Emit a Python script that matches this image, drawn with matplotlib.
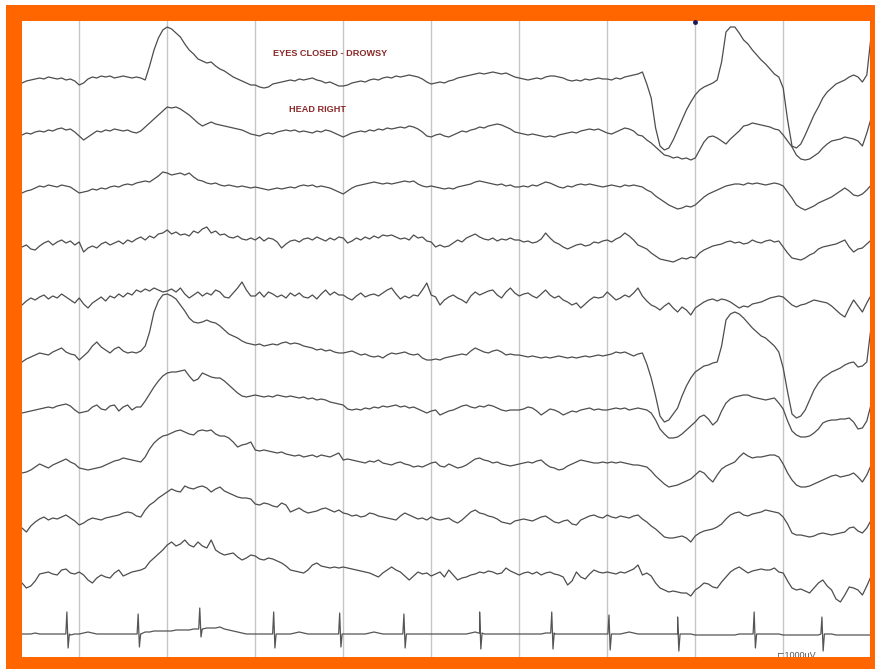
import numpy as np
import matplotlib
matplotlib.use("Agg")
import matplotlib.pyplot as plt

# EEG page, 10 channels + ECG, samples every 0.05 s (values in display units, + = up)
dt = 0.05
n_samp = 194

ch1 = [-3, -1, 0, 1, 2, 1, 3, 2, 1, 2, 0, 1, -1,
       -5, -3, 1, 3, 2, 4, 3, 4, 2, 3, 4, 3, 2, 3, 2, 0, 14, 30, 42, 50,
       53, 51, 47, 43, 36, 30, 26, 21, 19, 17, 18, 14, 11, 9, 6, 3, 1, -1, -3, -5,
       -5, -7, -8, -7, -4, -3, -2, -1, 0, -1, 1, 0, 1, 2, 0, -1, -3, -2, -4, -6,
       -6, -5, -3, -2, -1, -2, 0, 1, 0, 2, 3, 2, 4, 3, 4, 5, 4, 3, 1, -2,
       -4, -3, -2, -3, -1, 0, 2, 3, 4, 5, 6, 7, 6, 7, 8, 7, 6, 7, 5, 3,
       2, 1, 0, 1, 2, 1, 3, 4, 4, 3, 2, 0, -1, 0, -1, 1, 0, 1, 2, 1,
       1, 0, 2, 1, 3, 4, 5, 6, 8, -4, -18, -48, -66, -70, -68, -60, -50, -40, -30, -22,
       -15, -10, -7, -5, -3, 0, 18, 48, 53, 53, 47, 40, 36, 30, 25, 20, 16, 11, 6, 3,
       -8, -40, -66, -68, -64, -55, -45, -35, -27, -18, -12, -8, -4, -2, 0, 3, 5, 3, -2, 5, 45]

ch2 = [-2, 0, -1, 1, 2, 1, 3, 2, 4, 5, 3, 4, 1,
       -3, -7, -4, -1, 2, 1, 3, 2, 4, 3, 2, 3, 1, 0, 2, 6, 10, 14, 18, 22,
       26, 25, 26, 24, 21, 18, 14, 10, 7, 9, 11, 9, 8, 7, 6, 5, 4, 3, 1, -1,
       -2, -3, -1, 0, -1, 1, 2, 3, 2, 3, 1, 2, 1, 0, 2, 1, 3, 2, 0, -2,
       -4, -2, 0, 1, 2, 1, 3, 2, 4, 3, 5, 4, 5, 6, 5, 7, 6, 4, 1, -3,
       -4, -2, -1, -3, -4, -2, 0, 2, 1, 3, 4, 6, 5, 7, 8, 9, 8, 6, 4, 1,
       0, -1, -2, -1, -2, -3, -4, -3, -4, -2, -1, 0, 1, 0, 2, 3, 4, 3, 4, 2,
       0, -1, 1, 3, 5, 4, 2, -2, -3, -7, -10, -14, -18, -22, -23, -25, -24, -26, -25, -27,
       -25, -17, -9, -4, -3, -5, -8, -11, -6, -2, 2, 7, 8, 10, 9, 8, 7, 6, 4, 3,
       -2, -8, -14, -22, -26, -27, -26, -23, -20, -15, -11, -8, -7, -6, -4, -5, -6, -8, -13, 0, 15]

ch3 = [-5, -3, -2, 0, 2, 1, 3, 2, 1, 3, 2, 1, -2,
       -5, -4, -3, -1, -2, 0, -1, 1, 2, 1, 3, 4, 3, 5, 6, 7, 6, 9, 12, 16,
       15, 13, 14, 15, 13, 15, 11, 8, 7, 5, 4, 5, 3, 2, 3, 2, 1, 2, 1, 0,
       1, 0, -1, -2, -1, 0, -1, 0, 1, 0, 2, 3, 2, 3, 1, 2, 1, 0, -2, -4,
       -6, -3, 0, 2, 3, 4, 5, 6, 5, 4, 5, 4, 5, 6, 7, 6, 7, 4, 2, 1,
       2, 1, 0, -1, 0, -1, 1, 2, 3, 4, 6, 7, 6, 5, 4, 3, 4, 2, 3, 1,
       1, 2, 1, 3, 2, 4, 6, 5, 3, 1, 0, 2, 1, 3, 4, 3, 4, 3, 2, 1,
       2, 3, 2, 1, 3, 2, 3, 2, 1, -2, -4, -8, -11, -14, -17, -19, -21, -20, -18, -19,
       -17, -13, -9, -6, -4, -2, 0, 2, 3, 4, 4, 3, 5, 4, 5, 4, 3, 4, 5, 4,
       2, -4, -10, -17, -20, -22, -20, -18, -15, -13, -11, -9, -6, -3, 0, -3, -7, -8, -6, -2, 3]

ch4 = [-3, -1, -5, -6, -2, 1, 3, -1, 2, 4, 1, 3, -1,
       2, -8, -4, -2, -4, 0, 2, -1, 1, 3, 0, 4, 2, 5, 7, 4, 8, 6, 10, 11,
       14, 10, 12, 9, 10, 8, 13, 11, 15, 17, 11, 13, 9, 10, 7, 6, 8, 5, 4, 6,
       4, 7, 3, 6, 5, 2, -4, 0, 3, 4, 2, 5, 6, 4, 7, 5, 3, 6, 4, 7,
       6, 1, 3, 6, 4, 7, 5, 8, 6, 9, 8, 9, 7, 5, 6, 4, 9, 6, 7, 3,
       2, -3, -1, -3, -2, 1, 4, 2, 6, 8, 10, 7, 5, 4, 6, 3, 5, 4, 6, 4,
       4, 2, 3, 1, 2, 5, 11, 6, 2, 0, -3, -5, -3, -1, 0, -2, -1, 2, 1, 3,
       4, 2, 5, 7, 11, 8, 4, -1, -3, -5, -9, -12, -15, -16, -17, -18, -16, -14, -15, -13,
       -14, -9, -6, -4, -2, -1, 0, 2, 3, 1, 2, 0, 1, 4, 2, 1, 3, 4, 2, 3,
       -3, -9, -14, -15, -16, -14, -11, -9, -5, -3, -2, -1, 0, 2, 4, -3, -8, -5, -4, 0, 4]

ch5 = [-7, -3, 0, -2, 1, 3, -1, 2, 0, 4, 1, -2, -5,
       0, -6, -10, -5, -2, 1, -3, 2, 0, 4, 1, 5, 3, 8, 6, 9, 7, 10, 8, 6,
       7, 9, 6, 10, 4, 0, 3, 6, 2, 5, 3, 8, 6, 1, 0, 5, 10, 16, 8, 2,
       2, 6, 1, 6, 4, 1, 3, 0, 5, 2, 5, 1, 0, 3, -1, 4, 8, 3, 6, 3,
       3, 0, -2, 2, 5, 1, 3, 4, 2, 5, 8, 10, 4, -1, 2, 0, 3, 2, 8, 15,
       3, 1, -7, -2, 1, 3, 0, -2, -5, 2, 6, 3, 5, 7, 8, 3, 0, 6, 10, 5,
       2, 4, 5, 2, 0, 4, 8, 3, 0, 2, -2, -4, -7, -5, -10, -6, -2, 1, 0, 1,
       6, 2, -2, 0, 3, 1, 5, 10, 2, -3, -7, -9, -12, -8, -5, -10, -14, -9, -12, -17,
       -10, -7, -4, -2, -1, -3, -1, -2, -4, -7, -10, -8, -9, -6, -5, -4, -2, 0, 1, 2,
       1, -3, -7, -9, -7, -6, -4, -2, -3, -4, -5, -8, -12, -16, -19, -10, -2, -8, -14, -5, 3]

ch6 = [-6, -3, -1, 1, 3, 2, 1, 4, 6, 8, 4, 2, 1,
       -4, 0, 4, 10, 14, 9, 6, 3, 7, 9, 5, 3, 4, 3, 5, 10, 24, 44, 55, 61,
       62, 60, 57, 51, 45, 38, 34, 33, 34, 36, 34, 33, 30, 26, 22, 20, 18, 15, 13, 12,
       11, 12, 10, 11, 12, 11, 13, 14, 12, 13, 12, 10, 9, 8, 6, 7, 5, 6, 4, 3,
       3, 4, 5, 3, 1, 2, 0, -1, 0, -2, 1, 3, 2, 3, 4, 2, 1, 2, -2, -4,
       -4, -3, -4, -2, -1, 0, 1, 2, 1, 5, 8, 6, 4, 3, 5, 6, 4, 1, 2, 1,
       1, 0, -1, 0, -1, -2, -1, -2, -1, 0, -1, -2, -1, -2, -1, 0, -1, 0, 1, 0,
       1, 2, 4, 3, 4, 2, 0, 2, 3, -8, -22, -40, -60, -66, -64, -58, -52, -40, -30, -22,
       -16, -13, -10, -9, -7, -6, 10, 36, 42, 44, 42, 38, 33, 28, 24, 20, 18, 14, 10, 4,
       -12, -36, -58, -62, -60, -54, -44, -34, -27, -22, -19, -16, -14, -12, -9, -7, -6, -11, -10, -6, 30]

ch7 = [-4, -3, -2, -1, 0, 1, 2, 1, 3, 4, 5, 3, -1,
       -4, -3, -2, 2, 4, 0, -1, 3, 4, -2, 2, 4, -1, 2, 2, 8, 15, 22, 28, 33,
       36, 37, 37, 38, 39, 33, 28, 30, 36, 34, 32, 31, 31, 28, 24, 20, 16, 13, 12, 13,
       14, 13, 12, 13, 12, 14, 13, 12, 13, 12, 11, 12, 10, 11, 9, 10, 9, 7, 6, 5,
       4, 0, -1, 0, -1, 1, 0, 2, 1, 3, 2, 3, 4, 2, 3, 1, 2, 0, -2, -4,
       -2, -1, -6, -4, -2, -1, 1, 3, 4, 2, 1, 3, 2, 4, 3, 1, -1, -2, -1, -1,
       -1, 0, 2, 1, -2, -6, -3, 0, -1, -3, -6, -4, -2, -3, -1, 0, 1, -1, 0, -1,
       -1, 0, 1, 0, 1, -1, 0, 1, 0, -1, -4, -11, -20, -25, -29, -29, -28, -25, -21, -17,
       -13, -8, -6, -10, -16, -12, -2, 6, 10, 12, 13, 14, 14, 12, 11, 10, 9, 10, 11, 6,
       0, -12, -22, -26, -28, -28, -27, -24, -20, -14, -12, -11, -11, -10, -10, -9, -13, -20, -19, -12, 5]

ch8 = [-6, -5, -3, 0, 3, 1, -1, 2, 4, 6, 8, 5, 3,
       -1, -2, -3, -2, -1, 0, 2, 4, 6, 7, 9, 8, 7, 6, 5, 10, 18, 24, 28, 31,
       32, 34, 36, 37, 35, 33, 32, 36, 37, 36, 37, 33, 31, 31, 29, 25, 20, 22, 23, 25,
       17, 16, 17, 16, 15, 14, 15, 13, 12, 11, 12, 10, 11, 12, 10, 12, 11, 10, 12, 14,
       7, 8, 7, 6, 5, 4, 6, 5, 7, 4, 3, 2, 4, 5, 3, 2, 0, 1, 0, 2,
       4, 5, 1, 0, 3, 1, -1, 0, 2, 5, 8, 9, 7, 6, 4, 5, 3, 2, 1, 2,
       3, 4, 5, 4, 6, 7, 3, 0, -1, -3, -2, 1, 3, 5, 7, 6, 5, 4, 4, 5,
       4, 5, 4, 5, 4, 3, 2, 2, 1, 0, -4, -9, -13, -17, -20, -19, -18, -16, -14, -12,
       -8, -4, -6, -11, -15, -8, -2, 1, 3, 5, 10, 14, 11, 9, 10, 10, 11, 12, 12, 10,
       3, -6, -13, -18, -20, -20, -19, -17, -15, -13, -11, -9, -8, -10, -9, -8, -6, -10, -15, -8, 2]

ch9 = [-6, -10, -4, 0, 3, 5, 2, 4, 3, 5, 7, 4, 1,
       -3, -1, 2, 4, 3, 2, 4, 5, 6, 7, 9, 10, 9, 6, 5, 12, 17, 20, 24, 27,
       30, 33, 31, 30, 36, 34, 33, 35, 36, 34, 30, 33, 35, 31, 29, 27, 25, 24, 24, 23,
       18, 17, 19, 18, 16, 15, 19, 17, 10, 12, 14, 11, 9, 10, 11, 13, 14, 12, 10, 12,
       9, 8, 6, 7, 5, 6, 9, 8, 6, 5, 4, 3, 2, 6, 9, 7, 5, 3, 4, 2,
       5, 3, 2, 3, 4, 1, -1, 2, 6, 10, 12, 9, 8, 6, 5, 3, 0, -1, -2, 1,
       2, 3, 2, 1, 3, 5, 6, 3, 0, -1, 1, 2, -2, -3, 2, 4, 6, 7, 5, 4,
       7, 5, 4, 6, 5, 4, 6, 7, 3, 0, -4, -7, -11, -15, -16, -16, -15, -14, -16, -20,
       -14, -11, -9, -8, -7, -5, -2, 3, 7, 9, 10, 7, 6, 8, 9, 10, 12, 11, 10, 9,
       5, -2, -11, -13, -13, -14, -15, -14, -12, -11, -12, -13, -12, -11, -10, -6, -5, -9, -11, -6, 2]

ch10 = [-5, -10, -8, -3, 4, 5, 6, 4, 3, 8, 9, 5, 4,
        6, 3, -2, -5, 0, 3, 1, 0, 5, 8, 2, 4, 6, 7, 8, 10, 16, 20, 24, 28,
        33, 36, 32, 34, 38, 33, 31, 36, 32, 30, 38, 28, 25, 23, 24, 25, 21, 18, 20, 23,
        22, 19, 18, 20, 19, 17, 15, 12, 8, 7, 6, 5, 8, 13, 15, 12, 11, 10, 11, 10,
        11, 10, 9, 8, 7, 6, 5, 3, 1, 5, 8, 11, 8, 6, 2, -2, 2, 6, 4, 5,
        2, 4, 6, 1, 8, 3, -2, 0, 1, 3, 4, 6, 5, 7, 6, 4, 5, 10, 7, 5,
        3, 5, 6, 4, 6, 3, 5, 6, 4, 3, 1, -7, -3, 6, 1, -1, 4, 8, 6, 5,
        6, 5, 4, 6, 5, 7, 9, 13, 3, 5, 2, -5, -10, -12, -14, -13, -14, -15, -15, -18,
        -12, -9, -5, -6, -9, -10, -4, 1, 6, 9, 11, 8, 5, 7, 8, 9, 8, 8, 10, 6,
        5, -3, -10, -12, -11, -13, -15, -10, -5, -2, -8, -12, -21, -24, -17, -9, -10, -12, -17, -8, 2]

ecg_base = [0, 0, 0, 1, 0, 0, 0, 0, 0, 0, 0, -1, 0,
            0, 1, 2, 1, 0, 0, 0, 0, 0, 0, 0, 0, 0, 0, 0, 2, 2, 3, 3, 3,
            3, 3, 4, 4, 4, 4, 5, 5, 5, 6, 6, 6, 7, 5, 4, 3, 2, 1, 0, 0,
            0, 0, 0, 0, 0, 0, 0, 0, 0, 1, 2, 1, 0, 0, 0, 0, 0, 0, 0, 0,
            0, 0, 0, 0, 0, 0, 1, 2, 1, 0, 0, 0, 0, 0, 0, 0, 0, 0, 0, 0,
            0, 0, 0, 0, 0, 0, 0, 0, 0, 1, 2, 1, 0, 0, 0, 0, 0, 0, 0, 0,
            0, 0, 0, 0, 0, 0, 1, 1, 0, 0, 0, 0, 0, 0, 0, 0, 0, 0, 0, 0,
            0, 0, 0, 0, 1, 2, 1, 0, 0, 0, 0, 0, 0, 0, 0, 0, 0, 0, 0, 0,
            -1, -1, -1, -1, -1, -1, -1, -1, -1, -1, 0, 0, 0, 0, 0, 0, 0, 0, 0, 0,
            -1, -1, -1, -1, -1, -1, -1, -1, -1, 0, 0, 0, -1, -1, -1, -1, -1, -1, -1, -1, -1]

# ECG beats: time (s), R height, S depth
beat_t = [0.51, 1.32, 2.02, 2.86, 3.61, 4.34, 5.20, 6.02, 6.67, 7.45, 8.32, 9.09]
beat_r = [22, 20, 21, 22, 21, 20, 21, 21, 19, 17, 22, 17]
beat_s = [-14, -13, -8, -14, -13, -14, -16, -16, -16, -17, -14, -17]

channels = [ch1, ch2, ch3, ch4, ch5, ch6, ch7, ch8, ch9, ch10]
offsets = [577, 524, 469, 413, 359, 301, 248, 190, 135, 79]
ecg_offset = 23

t = np.arange(n_samp) * dt

fig = plt.figure(figsize=(8.75, 6.69), dpi=100)
fig.patch.set_facecolor('white')
# orange frame behind the plot area
frame_ax = fig.add_axes([6 / 875, 0, 1 - 6 / 875, 1 - 5 / 669], zorder=-1)
frame_ax.set_facecolor('#ff6600')
frame_ax.set_xticks([])
frame_ax.set_yticks([])
for sp in frame_ax.spines.values():
    sp.set_visible(False)

ax = fig.add_axes([22 / 875, 12 / 669, 848 / 875, 636 / 669], zorder=1)
ax.set_facecolor('white')
ax.set_xlim(0, 848 / 88)
ax.set_ylim(0, 636)
ax.set_xticks([])
ax.set_yticks([])
for sp in ax.spines.values():
    sp.set_visible(False)

# one-second grid lines
for k in range(9):
    ax.axvline(0.65 + k, color='#c6c6c6', lw=1.0, zorder=1)

trace_col = '#4d4d4d'
for vals, off in zip(channels, offsets):
    ax.plot(t, off + np.array(vals), color=trace_col, lw=0.9, zorder=2)

# ECG line: baseline samples plus QRS spikes
ecg_t = list(t)
ecg_y = [ecg_offset + v for v in ecg_base]
for bt, r, s in zip(beat_t, beat_r, beat_s):
    base = ecg_offset + ecg_base[int(round(bt / dt))]
    ecg_t += [bt - 0.012, bt, bt + 0.014, bt + 0.028]
    ecg_y += [base, base + r, base + s, base]
order = np.argsort(ecg_t, kind='stable')
ecg_t = np.array(ecg_t)[order]
ecg_y = np.array(ecg_y)[order]
# drop baseline samples that fall inside a spike window
keep = np.ones(len(ecg_t), bool)
for bt in beat_t:
    inside = (ecg_t > bt - 0.012) & (ecg_t < bt + 0.028)
    inside &= ~np.isin(ecg_t, [bt, bt + 0.014])
    keep &= ~inside
ax.plot(ecg_t[keep], ecg_y[keep], color='#555555', lw=0.9, zorder=2)

lab_font = ['Liberation Sans Narrow', 'Liberation Sans', 'DejaVu Sans']
ax.text(3.5, 603, 'EYES CLOSED - DROWSY', color='#8b2a2a', fontsize=6.6,
        fontweight='bold', family=lab_font, ha='center', va='center')
ax.text(3.36, 547, 'HEAD RIGHT', color='#8b2a2a', fontsize=6.6,
        fontweight='bold', family=lab_font, ha='center', va='center')
ax.text(8.58, 1, '\u228f1000uV', color='#555555', fontsize=6.5,
        family=lab_font, ha='left', va='center', clip_on=True)
ax.plot([7.65], [635], marker='o', ms=2.5, color='#1a1a5a', clip_on=False, zorder=3)

fig.savefig('out.png', dpi=100, facecolor='white')
